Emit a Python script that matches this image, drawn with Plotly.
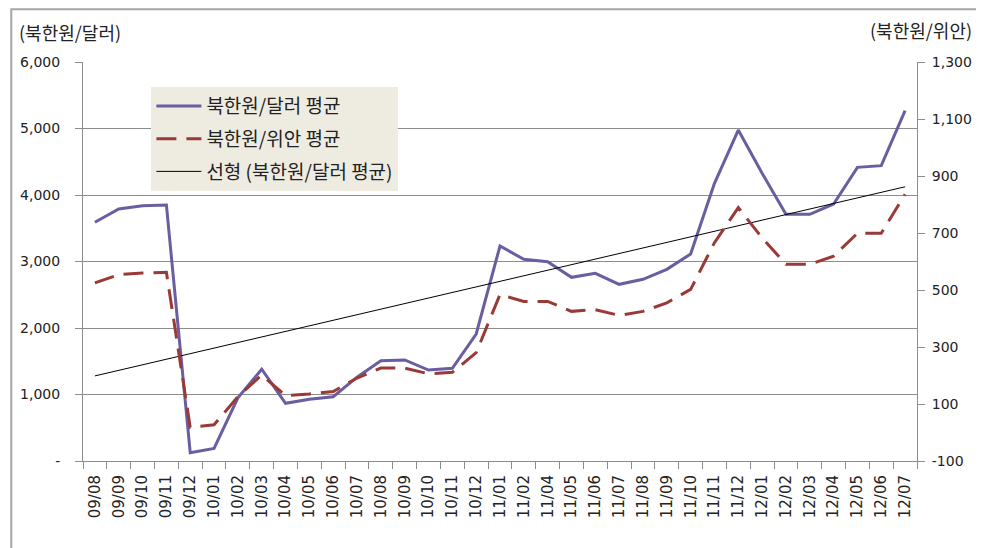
import numpy as np
import plotly.graph_objects as go

months = ["09/08", "09/09", "09/10", "09/11", "09/12",
          "10/01", "10/02", "10/03", "10/04", "10/05", "10/06", "10/07", "10/08", "10/09", "10/10", "10/11", "10/12",
          "11/01", "11/02", "11/04", "11/05", "11/06", "11/07", "11/08", "11/09", "11/10", "11/11", "11/12",
          "12/01", "12/02", "12/03", "12/04", "12/05", "12/06", "12/07"]

won_per_usd = [3590, 3790, 3840, 3850, 125,
               190, 950, 1380, 867, 930, 967, 1260, 1508, 1519, 1368, 1393, 1910,
               3233, 3033, 2997, 2762, 2822, 2657, 2732, 2882, 3113, 4175, 4977,
               4326, 3709, 3709, 3865, 4416, 4441, 5268]

won_per_cny = [525, 554, 560, 562, 18,
               27, 126, 202, 129, 135, 144, 191, 226, 226, 206, 211, 280,
               484, 460, 460, 425, 431, 411, 425, 455, 502, 666, 789,
               683, 590, 590, 619, 699, 699, 836]

left_ticks = [0, 1000, 2000, 3000, 4000, 5000, 6000]
left_labels = ["-", "1,000", "2,000", "3,000", "4,000", "5,000", "6,000"]
right_ticks = [-100, 100, 300, 500, 700, 900, 1100, 1300]
right_labels = ["-100", "100", "300", "500", "700", "900", "1,100", "1,300"]

names = ["북한원/달러 평균", "북한원/위안 평균", "선형 (북한원/달러 평균)"]

# linear trendline of the dollar series (least squares, as in the source chart)
idx = np.arange(len(won_per_usd))
slope, intercept = np.polyfit(idx, won_per_usd, 1)
trend = slope * idx + intercept

KFONT = "Noto Sans CJK KR"
NFONT = "DejaVu Sans"
GRAY = "#8C8C8C"
TXT = "#222222"

fig = go.Figure()
fig.add_trace(go.Scatter(x=months, y=won_per_usd, mode="lines", name=names[0],
                         legendgroup="a",
                         line=dict(color="#6A5EA0", width=3)))
fig.add_trace(go.Scatter(x=months, y=won_per_cny, mode="lines", name=names[1],
                         legendgroup="b", yaxis="y2",
                         line=dict(color="#9A3A37", width=3, dash="20px,10px")))
fig.add_trace(go.Scatter(x=months, y=trend, mode="lines", name=names[2],
                         legendgroup="c",
                         line=dict(color="#000000", width=1)))

fig.update_layout(
    width=976, height=540,
    margin=dict(l=73, r=66, t=54, b=87),
    paper_bgcolor="white", plot_bgcolor="white",
    font=dict(family=KFONT, size=14, color=TXT),
    showlegend=True,
    legend=dict(x=0.082, y=0.937, xanchor="left", yanchor="top",
                bgcolor="#EEECE1", borderwidth=0,
                font=dict(family=KFONT, size=19, color=TXT),
                tracegroupgap=5, itemwidth=45,
                traceorder="grouped"),
    xaxis=dict(type="category", tickangle=-90, showgrid=False,
               showline=True, linecolor=GRAY, linewidth=1,
               ticks="outside", ticklen=7, tickcolor=GRAY, tickson="boundaries",
               ticklabelstandoff=7,
               tickfont=dict(family=NFONT, size=15, color=TXT),
               range=[-0.5, len(months) - 0.5], fixedrange=True),
    yaxis=dict(range=[0, 6000], tickvals=left_ticks, ticktext=left_labels,
               showgrid=True, gridcolor=GRAY, gridwidth=1,
               showline=True, linecolor=GRAY, linewidth=1,
               ticks="outside", ticklen=7, tickcolor=GRAY,
               ticklabelstandoff=12,
               tickfont=dict(family=NFONT, size=14, color=TXT),
               zeroline=False),
    yaxis2=dict(range=[-100, 1300], tickvals=right_ticks, ticktext=right_labels,
                overlaying="y", side="right", showgrid=False,
                showline=True, linecolor=GRAY, linewidth=1,
                ticks="outside", ticklen=7, tickcolor=GRAY,
                ticklabelstandoff=4,
                tickfont=dict(family=NFONT, size=14, color=TXT),
                zeroline=False),
    annotations=[
        dict(text="(북한원/달러)", xref="paper", yref="paper", x=-0.079, y=1.075,
             xanchor="left", yanchor="middle", showarrow=False,
             font=dict(family=KFONT, size=18, color=TXT)),
        dict(text="(북한원/위안)", xref="paper", yref="paper", x=1.068, y=1.08,
             xanchor="right", yanchor="middle", showarrow=False,
             font=dict(family=KFONT, size=18, color=TXT)),
    ],
    shapes=[
        dict(type="rect", xref="paper", yref="paper", x0=-0.086, x1=1.3, y0=-0.4, y1=1.132,
             line=dict(color="#A6A6A6", width=2), fillcolor="rgba(0,0,0,0)", layer="below"),
    ],
)

fig.write_html("out.html")
